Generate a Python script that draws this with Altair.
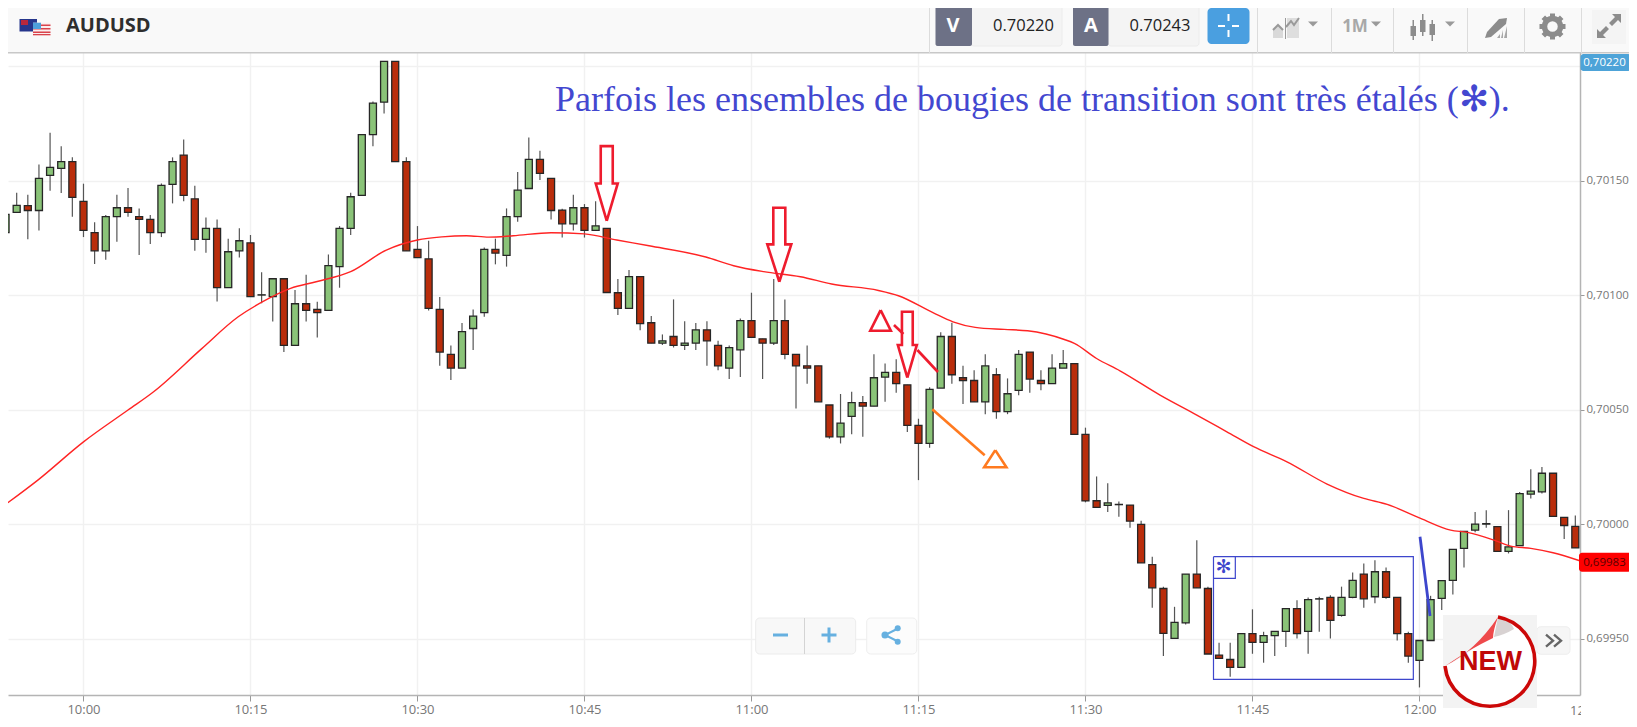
import altair as alt
import pandas as pd

# Candle values in units of 0.00001 above 0.70000, one per minute from 09:53
opens = [127.3,136.2,139.1,137.0,152.3,155.4,158.3,141.0,127.3,119.4,
         134.3,138.2,134.3,133.1,127.3,148.4,161.2,142.1,124.4,129.2,
         103.3,119.4,122.9,100.1,99.4,107.2,78.1,96.3,93.8,93.4,
         112.5,129.2,143.6,170.1,184.3,202.1,158.3,120.0,115.9,93.8,
         74.2,68.2,85.5,92.4,120.0,117.4,134.3,146.6,159.3,151.0,
         137.2,131.2,138.2,128.3,129.2,101.1,94.3,108.1,88.0,79.1,
         82.0,78.1,79.1,84.9,78.1,68.2,76.2,88.9,81.0,79.1,
         88.9,74.2,69.2,69.2,52.1,38.2,47.1,53.1,51.6,64.3,
         66.3,60.9,43.2,35.3,59.5,82.0,64.0,62.8,53.5,65.3,
         49.2,58.5,75.2,62.8,61.4,68.2,70.2,39.3,10.3,8.3,
         8.6,8.4,0.0,-17.6,-28.0,-49.8,-43.0,-21.7,-28.0,-57.1,
         -59.0,-62.4,-47.7,-51.5,-48.6,-46.7,-36.8,-46.7,-32.6,-31.9,
         -39.7,-31.9,-21.7,-31.6,-20.7,-31.9,-47.7,-59.4,-50.7,-32.3,
         -24.5,-10.5,-2.5,0.1,-1.0,-11.8,-9.3,13.2,14.2,22.3,
         3.0,-0.9]
closes = [135.3,139.2,137.0,151.0,155.8,158.3,142.7,128.3,119.4,134.3,
          138.2,136.2,133.1,127.3,148.0,158.3,143.6,124.4,129.2,103.3,
          119.0,123.8,99.4,100.2,107.2,78.1,96.3,93.4,92.4,112.9,
          129.2,143.0,170.1,183.9,202.1,158.3,119.4,116.4,94.3,75.2,
          68.2,84.1,90.9,120.0,118.4,134.3,145.9,159.3,153.2,137.0,
          131.2,138.2,128.3,130.3,101.2,94.3,108.1,87.6,79.1,80.1,
          78.1,79.1,84.9,80.1,69.2,77.1,88.9,81.6,79.1,88.9,
          74.2,69.2,68.2,53.5,38.2,44.2,53.1,51.6,64.0,66.3,
          61.4,43.2,35.3,58.9,82.0,65.3,62.8,53.5,69.2,49.2,
          57.0,74.2,63.4,61.4,68.2,70.2,39.3,10.2,7.4,9.4,
          8.7,1.4,-16.8,-27.7,-47.6,-42.8,-21.7,-27.7,-56.6,-58.5,
          -62.4,-47.7,-51.5,-48.6,-46.7,-36.8,-47.7,-32.9,-32.5,-41.9,
          -31.9,-24.5,-32.5,-20.7,-31.9,-47.7,-57.5,-50.7,-32.9,-24.6,
          -10.9,-3.1,0.1,0.3,-11.8,-9.8,13.4,14.5,22.3,3.5,
          -0.5,-10.3]
highs = [140.1,144.8,143.9,157.1,170.9,165.0,160.2,148.7,131.9,135.0,
         143.9,146.8,137.9,135.0,148.8,160.2,168.0,147.8,134.0,133.1,
         124.7,129.2,126.3,110.0,107.2,107.2,102.3,109.0,97.2,117.8,
         130.2,144.8,170.1,184.6,202.1,202.1,160.2,130.2,123.8,99.2,
         78.1,87.9,93.8,120.9,124.7,137.9,153.8,168.9,163.1,151.0,
         137.8,143.9,139.8,141.0,129.2,107.1,111.0,108.1,90.9,82.9,
         98.2,88.7,87.9,88.7,80.1,78.1,89.9,101.1,81.0,107.1,
         98.2,74.2,78.1,69.2,52.1,56.9,57.9,56.0,74.2,70.2,
         72.1,60.9,46.1,59.8,83.9,88.0,69.2,67.3,74.2,68.2,
         63.7,76.1,75.2,67.3,74.2,76.1,70.2,42.2,20.9,17.9,
         10.0,8.4,1.6,-14.1,-27.2,-36.0,-21.7,-7.0,-27.2,-51.7,
         -51.7,-47.7,-37.1,-46.9,-46.7,-36.8,-33.1,-31.9,-31.6,-31.0,
         -27.2,-21.0,-17.1,-15.7,-18.8,-31.9,-46.9,-50.7,-31.2,-24.6,
         -10.9,-3.1,5.4,6.2,-1.0,6.2,14.1,24.0,25.0,22.3,
         3.0,3.9]
lows = [127.3,136.2,124.4,128.3,145.6,144.6,134.3,125.4,113.6,115.5,
        123.4,134.3,117.6,122.4,125.4,140.1,141.0,119.4,118.6,97.3,
        103.3,116.5,99.4,96.5,88.5,75.2,78.1,88.5,81.6,93.4,
        103.3,126.3,143.6,165.1,179.4,158.3,119.4,116.4,93.4,69.2,
        63.0,68.2,76.1,90.6,113.5,112.5,132.1,146.6,150.3,133.1,
        125.2,128.3,125.2,128.3,101.2,91.4,94.3,84.7,79.1,78.3,
        77.2,76.1,76.1,69.2,67.3,63.4,64.3,81.6,63.4,78.3,
        72.1,50.6,61.4,53.5,37.4,35.3,39.3,38.2,51.6,53.5,
        57.4,40.3,19.3,33.4,59.5,61.4,52.5,53.5,48.1,46.1,
        48.1,56.4,57.4,58.5,61.4,68.2,39.3,9.6,7.4,5.4,
        3.3,-1.5,-16.8,-36.4,-57.5,-49.8,-43.7,-27.7,-56.6,-58.5,
        -66.5,-62.4,-56.5,-60.4,-57.5,-53.6,-49.8,-56.5,-46.9,-49.8,
        -40.3,-32.3,-36.4,-34.5,-32.5,-50.7,-60.4,-71.2,-50.7,-37.4,
        -30.6,-18.8,-3.4,-1.5,-11.8,-12.7,-9.3,11.3,13.5,3.5,
        -6.4,-10.3]
minutes = list(range(-7, 135))

ma_minutes = [-6.8,-4.1,0,4,6.3,10.6,13.9,16.1,18.6,20.9,24,27.2,30,32.2,34.4,36.4,38.6,42,45,47.9,
              50.8,55.9,58.4,61.1,64.4,67.2,71.4,73.2,76.3,78.1,80.1,82.7,84.8,88.1,89,91,93.1,96.7,
              100,102.7,105.1,108.1,111.7,115,117.1,120.1,122.8,124.3,126.7,128.2,130,132,134.4]
ma_values = [9.4,19.3,36,49.9,57.9,76.6,90.6,97.2,103,105.9,110.3,119.7,124.1,125.5,126,125.4,126,127.3,
             126.8,124.1,121.6,116.7,112.9,110.3,108.1,104.9,102.1,99.8,92.4,88.4,86,85.1,84.5,80.7,79,
             72.4,67,56.4,47.7,40.4,33.9,27.3,17.6,11.3,8.7,2.6,-2.5,-3.5,-6.9,-9.5,-10.5,-12.4,-15.9]

x_ticks = [0, 15, 30, 45, 60, 75, 90, 105, 120]
y_ticks = [0.6995, 0.7000, 0.7005, 0.7010, 0.7015, 0.7020]

TITLE = "Parfois les ensembles de bougies de transition sont très étalés (✻)."


def price(v):
    return round(0.7 + v / 1e5, 6)


df = pd.DataFrame({"t": minutes,
                   "open": [price(v) for v in opens],
                   "close": [price(v) for v in closes],
                   "high": [price(v) for v in highs],
                   "low": [price(v) for v in lows]})
df["dir"] = ["up" if c >= o else "down" for o, c in zip(opens, closes)]
ma_df = pd.DataFrame({"t": ma_minutes, "v": [price(v) for v in ma_values]})

xs = alt.Scale(domain=[-6.78, 134.42], nice=False, zero=False, padding=0)
ys = alt.Scale(domain=[0.699255, 0.702254], nice=False, zero=False, padding=0)
AX_FONT = "Open Sans"

x_axis = alt.Axis(values=x_ticks, title=None, grid=True, gridColor="#f1f1f1", gridWidth=1.5,
                  labelExpr="format(10+floor(datum.value/60),'02')+':'+format(datum.value%60,'02')",
                  labelFont=AX_FONT, labelFontSize=13, labelColor="#777777", labelPadding=2,
                  tickColor="#999999", tickSize=6, domainColor="#b4b4b4", domainWidth=1.5, labelOverlap=False)
y_axis = alt.Axis(values=y_ticks, title=None, orient="right", grid=True, gridColor="#f1f1f1", gridWidth=1.5,
                  labelExpr="datum.value > 0.7019 ? '' : replace(format(datum.value,'.5f'),'.',',')",
                  labelFont=AX_FONT, labelFontSize=11.5, labelColor="#777777", labelPadding=2,
                  tickColor="#999999", tickSize=4, domainColor="#b4b4b4", domainWidth=1.5, labelOverlap=False)

wicks = alt.Chart(df).mark_rule(color="#555555", strokeWidth=1.2).encode(
    x=alt.X("t:Q", scale=xs, axis=x_axis),
    y=alt.Y("low:Q", scale=ys, axis=y_axis),
    y2="high:Q")
bodies = alt.Chart(df).mark_bar(size=7, stroke="#262626", strokeWidth=1.3).encode(
    x=alt.X("t:Q", scale=xs, axis=x_axis),
    y=alt.Y("open:Q", scale=ys, axis=y_axis),
    y2="close:Q",
    color=alt.Color("dir:N", legend=None,
                    scale=alt.Scale(domain=["up", "down"], range=["#8ac378", "#b92d0b"])))
ma_line = alt.Chart(ma_df).mark_line(color="#ff2424", strokeWidth=1.4, interpolate="monotone").encode(
    x=alt.X("t:Q", scale=xs, axis=x_axis),
    y=alt.Y("v:Q", scale=ys, axis=y_axis))


# ---- hand-drawn annotations, placed in the chart's own time / price units
PX_T = 1 / 11.133   # minutes per pixel
PX_V = 0.4365       # value units per pixel


def arrow(t, v, total, head_h, head_w, shaft_w):
    pts = [(0, 0), (-head_w, head_h), (-shaft_w, head_h), (-shaft_w, total),
           (shaft_w, total), (shaft_w, head_h), (head_w, head_h), (0, 0)]
    return [(t + a * PX_T, v + b * PX_V) for a, b in pts]


def polylines(groups, color, width):
    rows = []
    for g, pts in enumerate(groups):
        for i, (t, v) in enumerate(pts):
            rows.append({"t": t, "v": price(v), "g": g, "i": i})
    return alt.Chart(pd.DataFrame(rows)).mark_line(color=color, strokeWidth=width, strokeJoin="miter").encode(
        x=alt.X("t:Q", scale=xs, axis=x_axis),
        y=alt.Y("v:Q", scale=ys, axis=y_axis),
        detail="g:N",
        order="i:Q")


red_marks = polylines([
    arrow(47.0, 132.5, 74.7, 37.3, 11, 6),
    arrow(62.5, 105.9, 74, 37.3, 12, 6),
    arrow(74.0, 64.0, 66, 32.7, 9.5, 5.4),
    [(71.6, 93.5), (70.67, 84.5), (72.52, 84.5), (71.6, 93.5)],
    [(72.8, 87.0), (73.65, 83.1)],
    [(74.9, 76.1), (76.75, 66.5)],
], "#ee1c2e", 2.6)
orange_marks = polylines([
    [(81.9, 32.4), (80.9, 24.9), (82.9, 24.9), (81.9, 32.4)],
    [(76.24, 50.2), (80.95, 30.2)],
], "#ff7a1f", 2.6)
blue_box = polylines([
    [(101.5, -14.1), (119.45, -14.1), (119.45, -67.7), (101.5, -67.7), (101.5, -14.1)],
    [(101.5, -23.6), (103.46, -23.6), (103.46, -14.1)],
], "#3d46cc", 1.2)
blue_line = polylines([[(120.05, -5.4), (120.95, -40.0)]], "#3d46cc", 2.8)


# ---- interface furniture, in page pixels
def rect(x0, y0, x1, y1, fill, stroke=None, r=0, sw=1):
    kw = dict(fill=fill, cornerRadius=r)
    if stroke:
        kw.update(stroke=stroke, strokeWidth=sw)
    return alt.Chart().mark_rect(**kw).encode(
        x=alt.value(x0 - 8), x2=alt.value(x1 - 8), y=alt.value(y0 - 8), y2=alt.value(y1 - 8))


def text(s, x, y, size, color, font="Open Sans", weight="normal", align="center"):
    return alt.Chart().mark_text(text=s, font=font, fontSize=size, fontWeight=weight, color=color,
                                 align=align, baseline="middle").encode(x=alt.value(x - 8), y=alt.value(y - 8))


def icon(path, x, y, fill=None, stroke=None, sw=1):
    kw = dict(shape=path, size=4, opacity=1)
    if fill:
        kw.update(filled=True, fill=fill)
    else:
        kw.update(filled=False)
    if stroke:
        kw.update(stroke=stroke, strokeWidth=sw)
    else:
        kw.update(strokeWidth=0)
    return alt.Chart().mark_point(**kw).encode(x=alt.value(x - 8), y=alt.value(y - 8))


def dot(x, y, size, fill):
    return alt.Chart().mark_point(shape="circle", size=size, filled=True, fill=fill, opacity=1,
                                  strokeWidth=0).encode(x=alt.value(x - 8), y=alt.value(y - 8))


furniture = [
    rect(0, 0, 1637, 53, "#f9f9f9"),
    rect(0, 52, 1637, 53.5, "#c8c8c8"),
    # flags
    rect(19.5, 19, 37, 31.5, "#26368c"),
    rect(21, 20, 28, 25, "#b8283c"),
    rect(33, 22.7, 50.5, 35.3, "#fbeeee"),
    rect(33, 24.5, 50.5, 26, "#d9434c"), rect(33, 28, 50.5, 29.5, "#d9434c"),
    rect(33, 31.5, 50.5, 33, "#d9434c"), rect(33, 34, 50.5, 35.3, "#d9434c"),
    rect(33, 22.7, 41, 29, "#4da0dc"),
    text("AUDUSD", 66, 26, 20, "#2e2e2e", weight="bold", align="left"),
    # separators
] + [rect(x, 0, x + 1, 53, "#dcdcdc") for x in [929, 1257, 1331, 1393, 1467, 1524, 1581]] + [
    rect(971, 5, 1062, 46, "#f4f4f4", stroke="#ececec", r=3),
    rect(1108, 5, 1199, 46, "#f4f4f4", stroke="#ececec", r=3),
    rect(935.5, 5, 972, 46, "#6d7186", r=2),
    rect(1073, 5, 1108.5, 46, "#6d7186", r=2),
    text("V", 953, 26, 20, "#ffffff", weight="bold"),
    text("A", 1091, 26, 20, "#ffffff", weight="bold"),
    text("0.70220", 1023.5, 26, 16.5, "#222222"),
    text("0.70243", 1160, 26, 16.5, "#222222"),
    rect(1207.5, 8, 1249.5, 44, "#4a9fe0", r=4),
    rect(1218, 25, 1225, 27, "#ffffff"), rect(1232, 25, 1239, 27, "#ffffff"),
    rect(1227.5, 14, 1229.5, 21, "#ffffff"), rect(1227.5, 30, 1229.5, 37, "#ffffff"),
    # chart-type icon
    icon("M 0 20 L 0 12 L 5 7 L 10 11 L 10 20 Z", 1273, 18, fill="#d9d9d9"),
    icon("M 0 12 L 5 7 L 10 12", 1273, 18, stroke="#9a9a9a", sw=2),
    icon("M 14 0 L 26 0 L 26 20 L 14 20 Z", 1273, 18, fill="#dedede"),
    icon("M 13 9 L 18 3 L 21 7 L 26 0", 1273, 18, stroke="#9a9a9a", sw=2),
    rect(1285, 18, 1286, 39, "#9a9a9a"),
    text("1M", 1355, 27, 17, "#a8a8a8", weight="bold"),
] + [icon("M -5 -2.5 L 5 -2.5 L 0 2.5 Z", x, y, fill="#9a9a9a") for x, y in [(1313, 24), (1376, 24), (1450, 24)]] + [
    # candle icon
    rect(1412.5, 20, 1414, 40, "#8c8c8c"), rect(1410.5, 26, 1416, 36, "#8c8c8c"),
    rect(1422, 14, 1423.5, 36, "#8c8c8c"), rect(1420, 20, 1425.5, 32, "#8c8c8c"),
    rect(1431.5, 20, 1433, 41, "#8c8c8c"), rect(1429.5, 24, 1435, 35, "#8c8c8c"),
    # pencil icon
    icon("M 0 20 L 2 14 L 14 1 L 22 0 L 21 6 L 6 19 Z", 1485, 18, fill="#8c8c8c"),
    icon("M 12 20 L 15 16 L 15 20 Z M 16 20 L 18 12 L 18 20 Z M 19 20 L 22 8 L 22 20 Z", 1485, 18, fill="#a8a8a8"),
    # gear
    icon("M 8 0 A 8 8 0 1 1 -8 0 A 8 8 0 1 1 8 0", 1552.5, 26.5, stroke="#8c8c8c", sw=5.5),
    icon("M 0 -13 L 0 -9 M 0 13 L 0 9 M -13 0 L -9 0 M 13 0 L 9 0 "
         "M 9.2 9.2 L 6.4 6.4 M -9.2 -9.2 L -6.4 -6.4 M 9.2 -9.2 L 6.4 -6.4 M -9.2 9.2 L -6.4 6.4",
         1552.5, 26.5, stroke="#8c8c8c", sw=5),
    rect(1592, 10, 1626, 44, "#f4f4f4"),
    icon("M -12 12 L -12 3 L -9 6 L -3 0 L 0 3 L -6 9 L -3 12 Z M 12 -12 L 12 -3 L 9 -6 L 3 0 L 0 -3 L 6 -9 L 3 -12 Z",
         1609, 26, fill="#8c8c8c"),
    # price tags
    rect(1580.5, 54, 1631, 71, "#4da3d8", r=3),
    text("0,70220", 1604.5, 62.8, 11.5, "#ffffff"),
    rect(1579, 552.7, 1631, 571.7, "#ff0000", r=3),
    text("0,69983", 1604.5, 562.5, 11.5, "#5a0000"),
    # the part of the last time label that the price panel hides
    text("12", 1570, 710.5, 13, "#777777", align="left"),
    rect(1581, 700, 1633, 719, "#ffffff"),
    # zoom and share buttons
    rect(755.7, 618, 855.7, 654, "#f8f8f8", stroke="#ececec", r=4),
    rect(804, 618, 805, 654, "#d4d4d4"),
    rect(773, 633.5, 788, 636.5, "#66b0e0"),
    rect(821.5, 633.5, 836.5, 636.5, "#66b0e0"),
    rect(827.5, 627.5, 830.5, 642.5, "#66b0e0"),
    rect(866.7, 618, 916.7, 654, "#fcfcfc", stroke="#eeeeee", r=4),
    icon("M 13 -6.5 L 0 0 L 13 6.5", 885, 635, stroke="#66b0e0", sw=2),
    dot(885, 635, 50, "#66b0e0"),
    dot(897.7, 628.3, 36, "#66b0e0"),
    dot(897.7, 641.7, 36, "#66b0e0"),
    rect(1536.7, 626.7, 1570, 654.3, "#f6f6f6", stroke="#eeeeee", r=4),
    icon("M -7 -6 L 0 0 L -7 6 M 1 -6 L 8 0 L 1 6", 1553, 640.7, stroke="#666666", sw=2.4),
    # NEW sticker
    rect(1443, 615, 1537, 708, "#f3f3f3"),
    icon("M 8 -44 A 45 45 0 1 1 -45 5 Q -10 -10 8 -44 Z", 1490, 661, fill="#ffffff"),
    icon("M 8 -44 Q 22 -40 24 -32 Q 14 -26 4 -24 Z", 1490, 661, fill="#d8d2d2"),
    icon("M 8 -44 A 45 45 0 1 1 -45 5", 1490, 661, stroke="#cc0808", sw=3.6),
    icon("M -45 5 Q -15 -10 8 -44 Q 3 -30 3 -23 Q -20 -12 -45 5 Z", 1490, 661, fill="#ee4a4c"),
    text("NEW", 1490.5, 662, 27, "#c00808", font="Liberation Sans", weight="bold"),
    # asterisk of the highlighted box, and the caption
    text("✻", 1223.7, 567, 19, "#3d46cc", font="DejaVu Sans"),
    text(TITLE, 555, 100, 36, "#4347d0", font="Liberation Serif", align="left"),
]

chart = alt.layer(wicks, bodies, ma_line, red_marks, orange_marks, blue_box, blue_line,
                  *furniture).properties(
    width=1572, height=687,
    autosize=alt.AutoSizeParams(type="none"),
    padding={"left": 0, "top": 0, "right": 49, "bottom": 24},
    background="#ffffff",
).configure_view(stroke=None)

chart.save("out.html", embed_options={"renderer": "svg", "actions": False})
